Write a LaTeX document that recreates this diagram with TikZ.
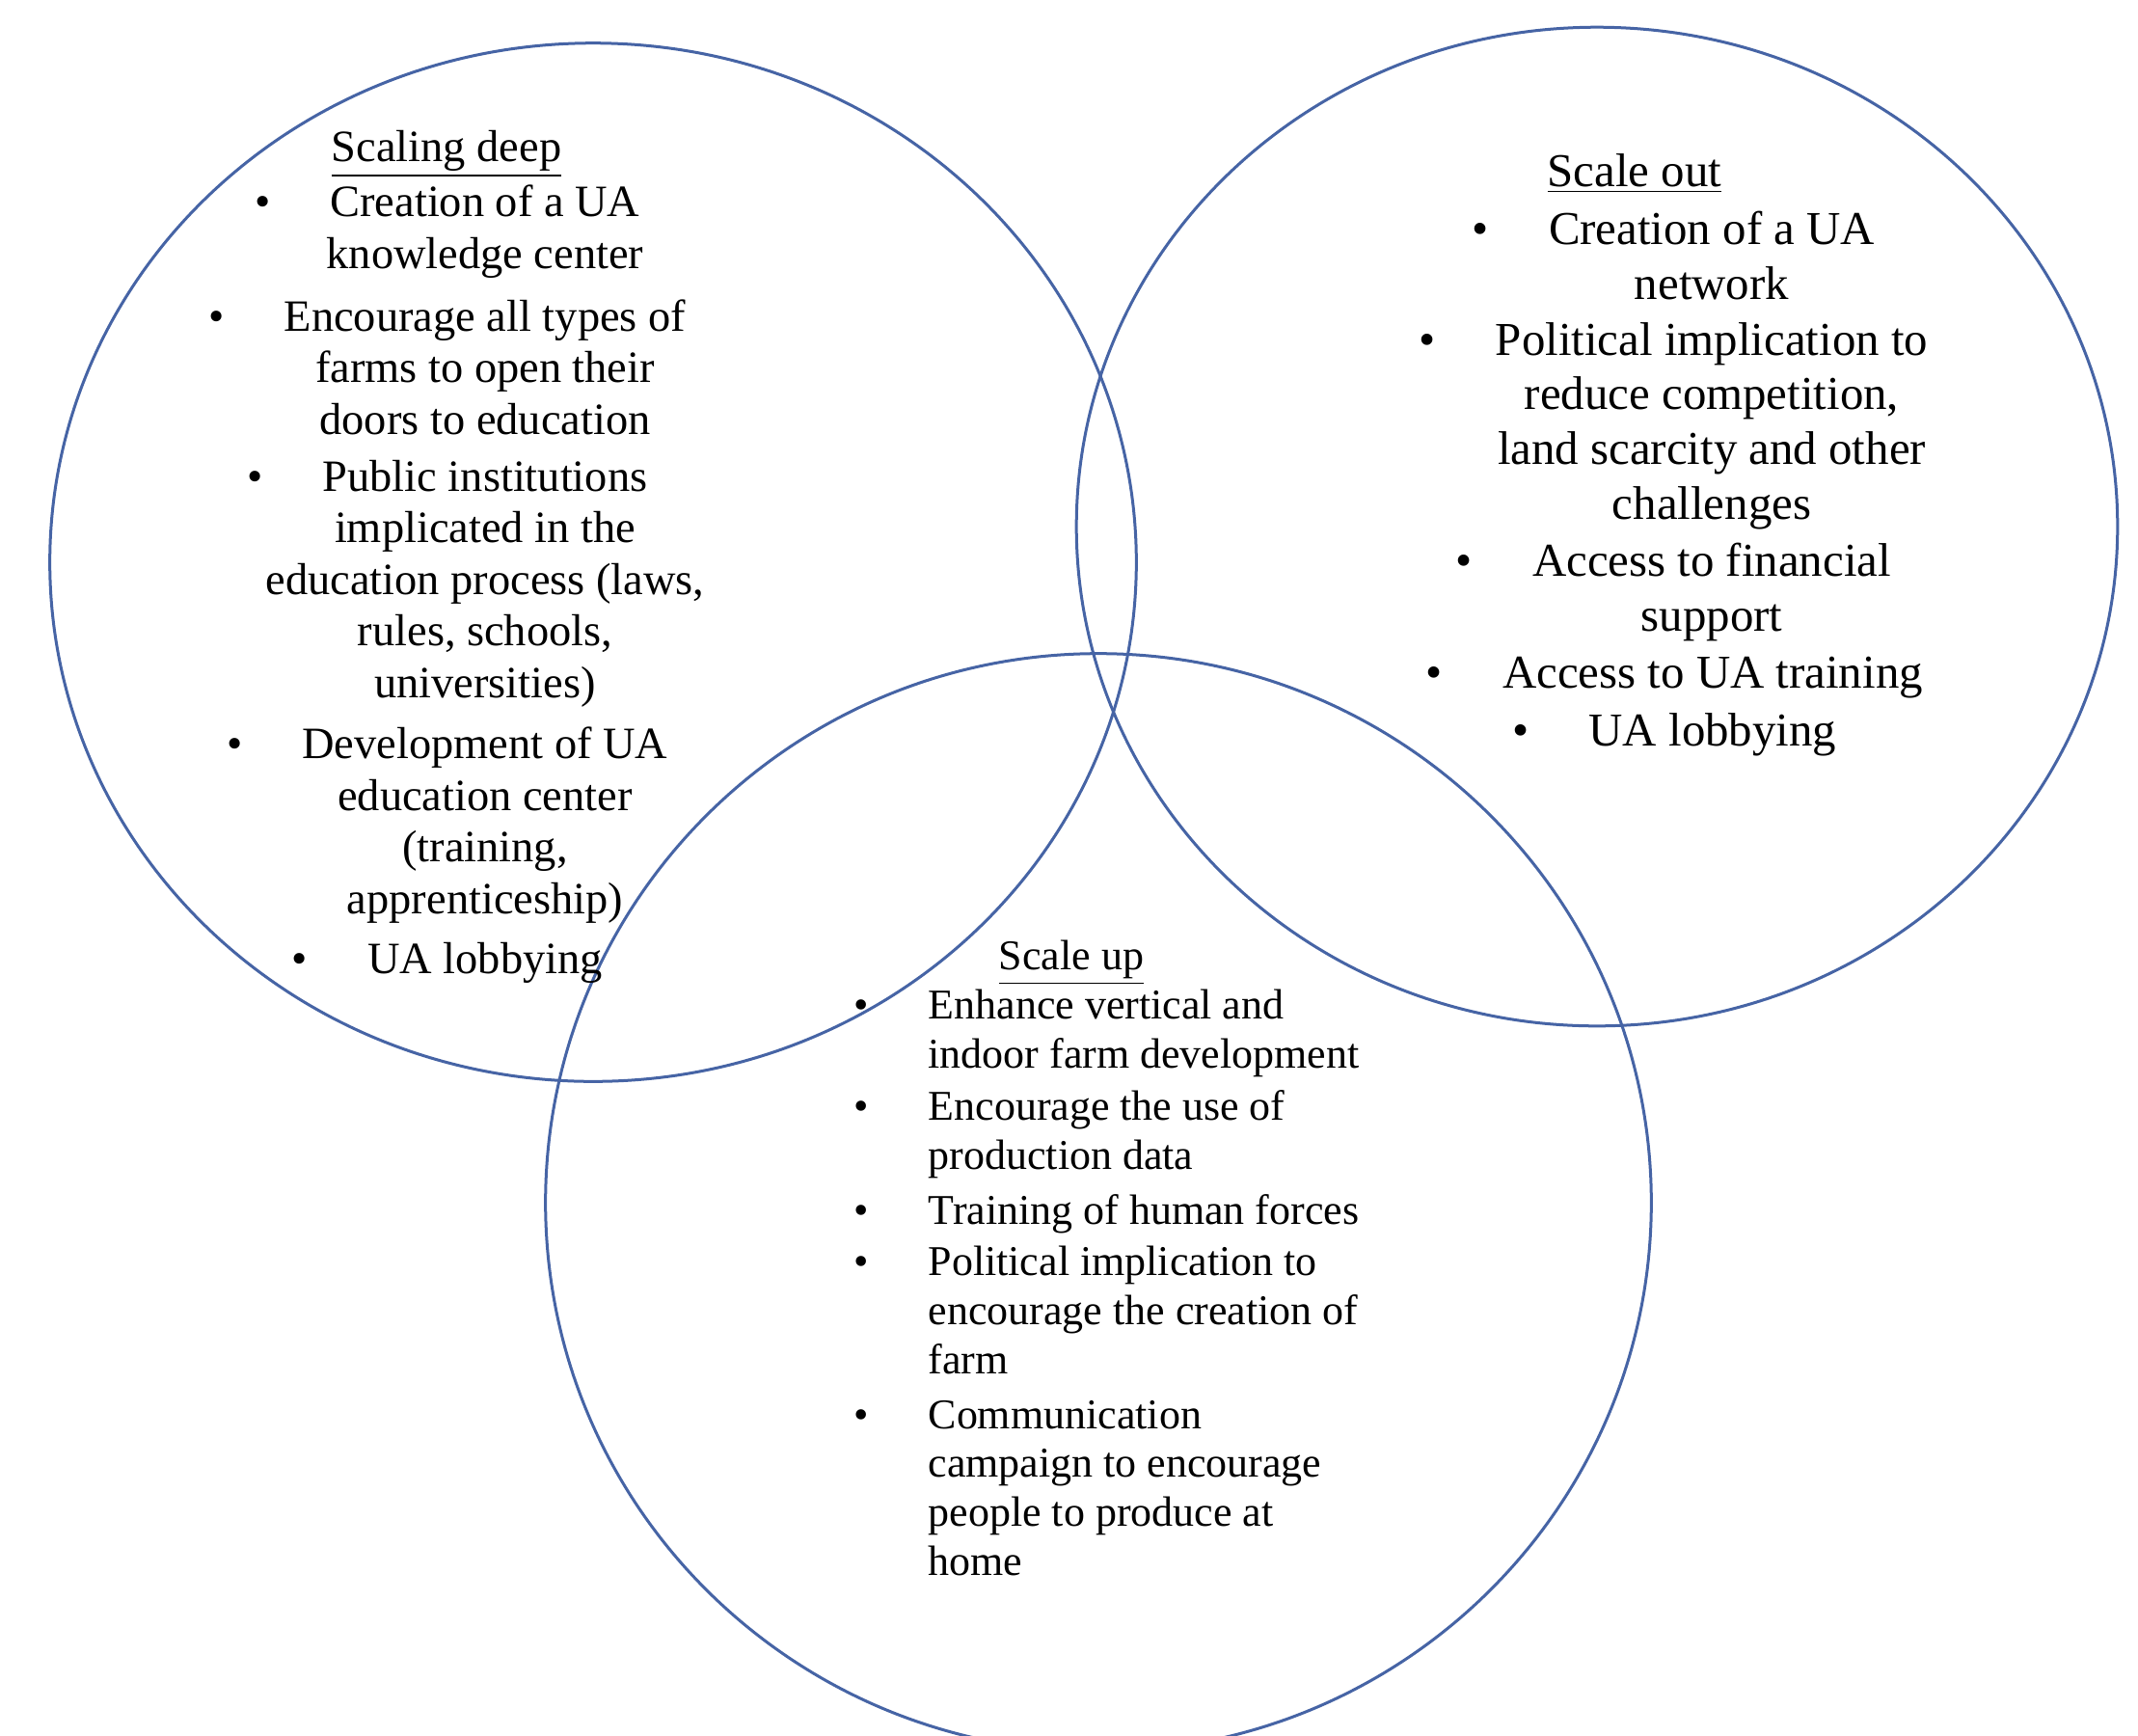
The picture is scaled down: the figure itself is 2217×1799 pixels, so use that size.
\documentclass[tikz,border=0pt]{standalone}
\usepackage{fontspec}
\setmainfont{Liberation Serif}
\usetikzlibrary{shapes.geometric}
\definecolor{vblue}{RGB}{70,100,165}
\newcommand\bul{\llap{\textbullet\hspace{0.62cm}}}
\tikzset{
  venn/.style={ellipse, draw=vblue, line width=0.03cm, inner sep=0pt},
  ltxt/.style={font=\fontsize{13.2}{15.2}\selectfont, align=center, anchor=base, inner sep=0pt},
  rtxt/.style={font=\fontsize{13.9}{16.1}\selectfont, align=center, anchor=base, inner sep=0pt},
  btxt/.style={font=\fontsize{12.5}{14.4}\selectfont, align=left, anchor=base west, inner sep=0pt},
  bhead/.style={font=\fontsize{12.5}{14.4}\selectfont, anchor=base, inner sep=0pt}
}
\begin{document}
\begin{tikzpicture}[x=0.01cm,y=-0.01cm]
\useasboundingbox (0,0) rectangle (2217,1799);
\begin{scope}
\clip (0,0) rectangle (2217,1799);
\node[venn, minimum width=11.26cm, minimum height=10.76cm] (deep) at (615,583) {};
\node[venn, minimum width=10.79cm, minimum height=10.35cm] (out) at (1656,546) {};
\node[venn, minimum width=11.46cm, minimum height=11.38cm] (up) at (1139,1247) {};
\end{scope}
% Scaling deep (anchor = baseline of last line)
\node[ltxt] (d0) at (463,167) {\underline{Scaling deep}};
\node[ltxt] (d1) at (503,278) {\bul Creation of a UA\\knowledge center};
\node[ltxt] (d2) at (503,450) {\bul Encourage all types of\\farms to open their\\doors to education};
\node[ltxt] (d3) at (503,723) {\bul Public institutions\\implicated in the\\education process (laws,\\rules, schools,\\universities)};
\node[ltxt] (d4) at (503,947) {\bul Development of UA\\education center\\(training,\\apprenticeship)};
\node[ltxt] (d5) at (503,1009) {\bul UA lobbying};
% Scale out
\node[rtxt] (r0) at (1695,193) {\underline{Scale out}};
\node[rtxt] (r1) at (1775,310) {\bul Creation of a UA\\network};
\node[rtxt] (r2) at (1775,538) {\bul Political implication to\\reduce competition,\\land scarcity and other\\challenges};
\node[rtxt] (r3) at (1775,654) {\bul Access to financial\\support};
\node[rtxt] (r4) at (1776,713) {\bul Access to UA training};
\node[rtxt] (r5) at (1776,773) {\bul UA lobbying};
% Scale up
\node[bhead] (u0) at (1111,1005) {\underline{Scale up}};
\node[btxt] (u1) at (962,1107) {\bul Enhance vertical and\\indoor farm development};
\node[btxt] (u2) at (962,1212) {\bul Encourage the use of\\production data};
\node[btxt] (u3) at (962,1269) {\bul Training of human forces};
\node[btxt] (u4) at (962,1424) {\bul Political implication to\\encourage the creation of\\farm};
\node[btxt] (u5) at (962,1633) {\bul Communication\\campaign to encourage\\people to produce at\\home};
\end{tikzpicture}
\end{document}
